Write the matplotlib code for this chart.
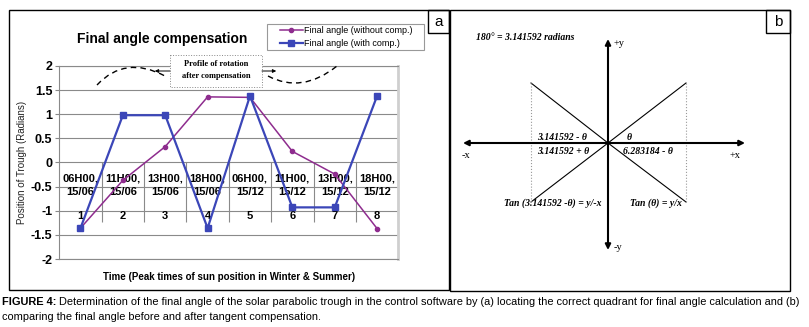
import numpy as np
import matplotlib
matplotlib.use("Agg")
from matplotlib import pyplot as plt
from matplotlib.patches import Rectangle, PathPatch
from matplotlib.path import Path

# data for panel (a)
cats = [1, 2, 3, 4, 5, 6, 7, 8]
times = ["06H00,", "11H00,", "13H00,", "18H00,", "06H00,", "11H00,", "13H00,", "18H00,"]
dates = ["15/06", "15/06", "15/06", "15/06", "15/12", "15/12", "15/12", "15/12"]
without_comp = [-1.36, -0.37, 0.33, 1.36, 1.35, 0.23, -0.24, -1.37]
with_comp = [-1.36, 0.98, 0.98, -1.36, 1.38, -0.93, -0.93, 1.38]
yticks = [-2, -1.5, -1, -0.5, 0, 0.5, 1, 1.5, 2]

W, H = 809, 327
fig = plt.figure(figsize=(W/100, H/100), dpi=100)

sans = ['Liberation Sans', 'DejaVu Sans']
serif = ['Liberation Serif', 'DejaVu Serif']
purple = '#8E2C8E'
blue = '#3B46B8'

# ---------- panel (a) chart ----------
ax = fig.add_axes([59.3/W, 1-259/H, 339/W, 193/H])
x = np.arange(len(cats)) + 0.5
ax.plot(x, without_comp, color=purple, lw=1.1, marker='o', ms=3, zorder=5,
        label='Final angle (without comp.)')
ax.plot(x, with_comp, color=blue, lw=1.6, marker='s', ms=4, zorder=6,
        label='Final angle (with comp.)')
ax.set_xlim(0, len(cats))
ax.set_ylim(-2, 2)
ax.set_yticks(yticks)
ax.set_yticklabels([f"{v:g}" for v in yticks], fontsize=9, fontweight='bold', family=sans)
ax.set_xticks([])
ax.yaxis.grid(True, color='#8a8a8a', lw=0.8)
ax.set_axisbelow(True)
ax.tick_params(axis='y', length=3, color='#888888', pad=2)
for s in ['left', 'top', 'bottom']:
    ax.spines[s].set_color('#8a8a8a')
    ax.spines[s].set_linewidth(0.8)
ax.spines['right'].set_color('#cfcfcf')
ax.spines['right'].set_linewidth(2)

# multi-level category labels along the zero line
ax.vlines(np.arange(1, len(cats)+1), -1.24, 0, color='#8a8a8a', lw=0.8, zorder=1)
for xi, t, d, c in zip(x, times, dates, cats):
    ax.text(xi, -0.33, t, ha='center', va='center', fontsize=8, fontweight='bold', family=sans, zorder=2)
    ax.text(xi, -0.62, d, ha='center', va='center', fontsize=8, fontweight='bold', family=sans, zorder=2)
    ax.text(xi, -1.11, str(c), ha='center', va='center', fontsize=8, fontweight='bold', family=sans, zorder=2)

ax.set_xlabel('Time (Peak times of sun position in Winter & Summer)', fontsize=7,
              fontweight='bold', family=sans, labelpad=9)
ax.set_ylabel('Position of Trough (Radians)', fontsize=7, family=sans, color='#222222', labelpad=3)

leg = ax.legend(loc='center left', bbox_to_anchor=(280/W, 1-37/H), bbox_transform=fig.transFigure,
                prop={'family': sans, 'size': 6.5}, frameon=False,
                borderaxespad=0, borderpad=0, handlelength=2.5, handletextpad=0.15,
                labelspacing=0.45)

# ---------- overlay for panel frames, panel (b) and caption ----------
ov = fig.add_axes([0, 0, 1, 1], zorder=10)
ov.set_xlim(0, W)
ov.set_ylim(H, 0)
ov.axis('off')
ov.patch.set_alpha(0)

ov.add_patch(Rectangle((267, 24), 157, 26, fill=False, ec='#999999', lw=0.8))
ov.add_patch(Rectangle((9, 10), 440, 280, fill=False, ec='black', lw=1))
ov.add_patch(Rectangle((450, 10), 340, 281, fill=False, ec='black', lw=1))
ov.add_patch(Rectangle((428, 10), 21, 23, fill=False, ec='black', lw=1))
ov.add_patch(Rectangle((766, 10), 24, 23, fill=False, ec='black', lw=1))
ov.text(438.5, 22, 'a', ha='center', va='center', fontsize=11, family=sans)
ov.text(778, 22, 'b', ha='center', va='center', fontsize=11, family=sans)

ov.text(162, 39, 'Final angle compensation', ha='center', va='center', fontsize=10,
        fontweight='bold', family=sans)

# profile of rotation note
ov.add_patch(Rectangle((170, 55), 92, 32, fc='white', ec='#888888', lw=0.7, ls=':'))
ov.text(216, 70, 'Profile of rotation\nafter compensation', ha='center', va='center',
        fontsize=6, fontweight='bold', family=serif, linespacing=1.5)
ov.annotate('', xy=(152, 71), xytext=(170, 71),
            arrowprops=dict(arrowstyle='-|>', color='black', lw=0.7, mutation_scale=5, shrinkA=0))
ov.annotate('', xy=(279, 71), xytext=(262, 71),
            arrowprops=dict(arrowstyle='-|>', color='black', lw=0.7, mutation_scale=5, shrinkA=0))
for pts in [[(97, 85), (125, 55), (165, 76)], [(268, 76), (302, 94), (337, 66)]]:
    ov.add_patch(PathPatch(Path(pts, [Path.MOVETO, Path.CURVE3, Path.CURVE3]),
                           fill=False, ec='black', lw=1, ls=(0, (4, 3))))

# panel (b) quadrant diagram
cx, cy = 608, 143
ov.annotate('', xy=(463, cy), xytext=(745, cy),
            arrowprops=dict(arrowstyle='<|-|>', color='black', lw=1.5, mutation_scale=8,
                            shrinkA=0, shrinkB=0))
ov.annotate('', xy=(cx, 39), xytext=(cx, 250),
            arrowprops=dict(arrowstyle='<|-|>', color='black', lw=1.5, mutation_scale=8,
                            shrinkA=0, shrinkB=0))
for ex, ey in [(531, 83), (686, 83), (531, 202), (686, 202)]:
    ov.plot([cx, ex], [cy, ey], color='black', lw=0.8)
for ex in [531, 686]:
    ov.plot([ex, ex], [83, 202], color='#999999', lw=0.8, ls=':')

bi = dict(fontsize=7, fontweight='bold', style='italic', family=serif, va='center')
ov.text(476, 37, '180° = 3.141592 radians', ha='left', **bi)
ov.text(537, 137, '3.141592 - θ', ha='left', **bi)
ov.text(627, 137, 'θ', ha='left', **bi)
ov.text(537, 151, '3.141592 + θ', ha='left', **bi)
ov.text(623, 151, '6.283184 - θ', ha='left', **bi)
ov.text(504, 203, 'Tan (3.141592 -θ) = y/-x', ha='left', **bi)
ov.text(630, 203, 'Tan (θ) = y/x', ha='left', **bi)
ax_lbl = dict(fontsize=7.5, family=serif, va='center', ha='left')
ov.text(614, 43, '+y', **ax_lbl)
ov.text(614, 248, '-y', **ax_lbl)
ov.text(462, 155, '-x', **ax_lbl)
ov.text(730, 155, '+x', **ax_lbl)

# caption
t1 = ov.text(2, 302, 'FIGURE 4:', ha='left', va='center', fontsize=7.9, fontweight='bold', family=sans)
ov.annotate(' Determination of the final angle of the solar parabolic trough in the control software by (a) '
            'locating the correct quadrant for final angle calculation and (b)',
            xy=(1, 0.5), xycoords=t1, ha='left', va='center', fontsize=7.9, family=sans)
ov.text(2, 317, 'comparing the final angle before and after tangent compensation.',
        ha='left', va='center', fontsize=7.9, family=sans)

fig.savefig('out.png', dpi=100, facecolor='white')
